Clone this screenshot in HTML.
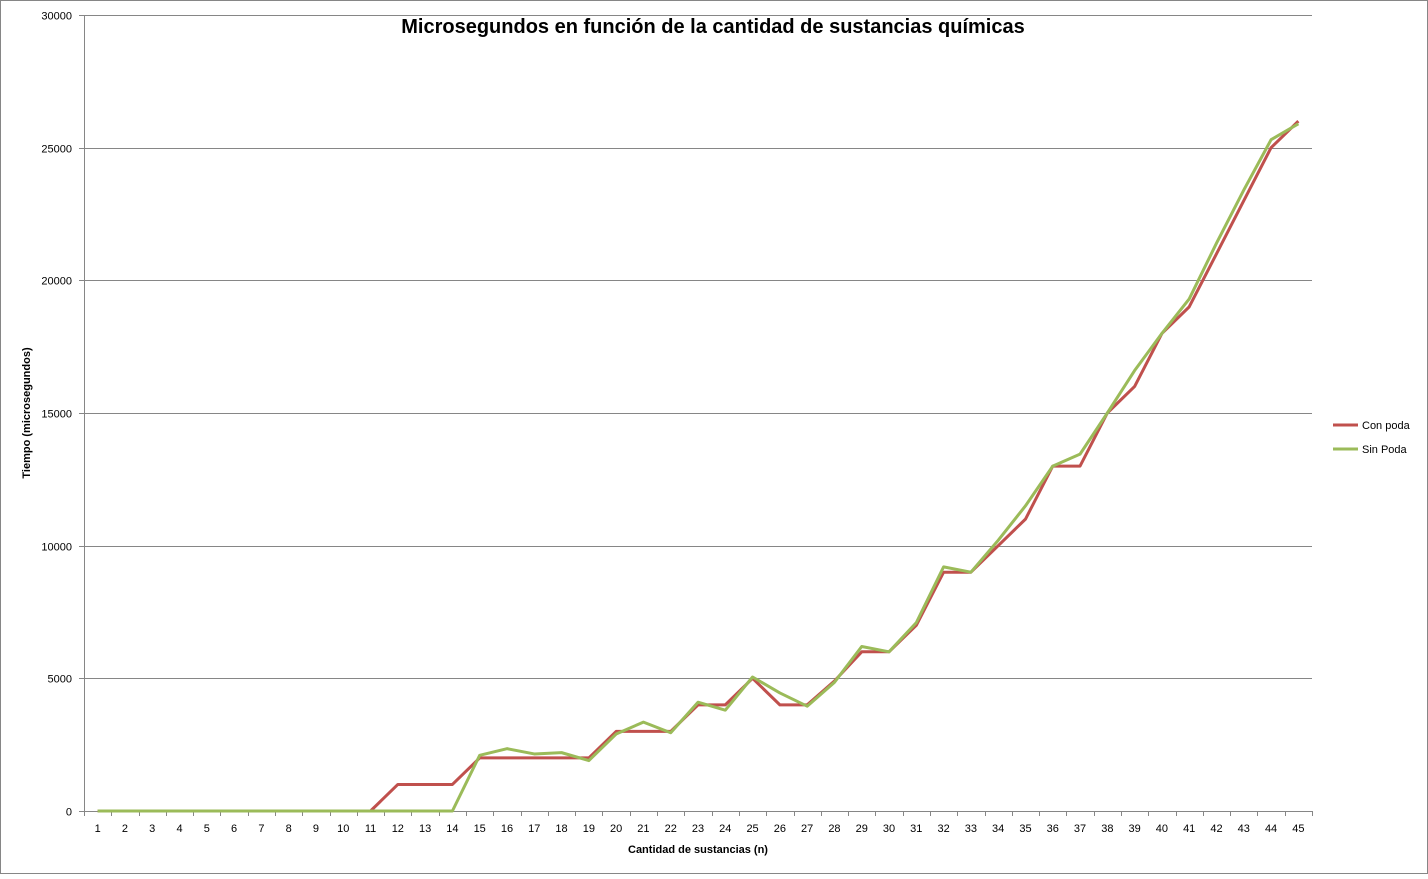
<!DOCTYPE html>
<html><head><meta charset="utf-8"><style>
body{margin:0;background:#fff;}
svg text{font-family:"Liberation Sans",sans-serif;}
</style></head><body>
<svg id="chart" width="1428" height="874" xmlns="http://www.w3.org/2000/svg">
<rect x="0.5" y="0.5" width="1427" height="873" fill="#fff" stroke="#868686"/>
<text x="713" y="33" text-anchor="middle" font-size="20" font-weight="bold">Microsegundos en función de la cantidad de sustancias químicas</text>
<text transform="translate(30,413) rotate(-90)" text-anchor="middle" font-size="11" font-weight="bold">Tiempo  (microsegundos)</text>
<text x="698" y="853" text-anchor="middle" font-size="11" font-weight="bold">Cantidad  de sustancias  (n)</text>
<g id="grid"></g><g id="axes"></g><g id="series"></g>
<g>
<line x1="1333" y1="425" x2="1358" y2="425" stroke="#C0504D" stroke-width="3"/>
<text x="1362" y="429" font-size="11">Con poda</text>
<line x1="1333" y1="449" x2="1358" y2="449" stroke="#9BBB59" stroke-width="3"/>
<text x="1362" y="453" font-size="11">Sin Poda</text>
</g>
</svg>
<script>
const categories=[];for(let i=1;i<=45;i++)categories.push(i);
const conPoda=[0,0,0,0,0,0,0,0,0,0,0,1000,1000,1000,2000,2000,2000,2000,2000,3000,3000,3000,4000,4000,5000,4000,4000,4900,6000,6000,7000,9000,9000,10000,11000,13000,13000,15000,16000,18000,19000,21000,23000,25000,26000];
const sinPoda=[0,0,0,0,0,0,0,0,0,0,0,0,0,0,2100,2350,2150,2200,1900,2900,3350,2950,4100,3800,5050,4450,3950,4850,6200,6000,7100,9200,9000,10200,11500,13000,13450,15000,16600,18000,19300,21400,23400,25300,25900];
const yTicks=[0,5000,10000,15000,20000,25000,30000];
const NS="http://www.w3.org/2000/svg";
const L=84,R=1312,T=15,B=811,YMAX=30000;
const step=(R-L)/categories.length;
function xs(i){return L+step*(i+0.5);}
function ys(v){return B-(v/YMAX)*(B-T);}
function mk(tag,attrs,parent){const e=document.createElementNS(NS,tag);for(const k in attrs)e.setAttribute(k,attrs[k]);parent.appendChild(e);return e;}
const grid=document.getElementById('grid'),axes=document.getElementById('axes'),ser=document.getElementById('series');
yTicks.forEach(t=>{
 const y=Math.round(ys(t))+0.5;
 const g=mk('line',{x1:L,x2:R,y1:y,y2:y,stroke:'#868686','stroke-width':1},grid);
 
 
 const tk=mk('line',{x1:L-5,x2:L,y1:y,y2:y,stroke:'#868686'},axes);
 
 
 const tx=mk('text',{x:72,y:y+4,'text-anchor':'end','font-size':11},axes);tx.textContent=t;
 
 
});
const ya=mk('line',{x1:L+0.5,x2:L+0.5,y1:T,y2:B,stroke:'#868686'},axes);


for(let i=0;i<=categories.length;i++){
 const x=Math.round(L+step*i)+0.5;
 const tk=mk('line',{x1:x,x2:x,y1:B,y2:B+5,stroke:'#868686'},axes);
 
 
}
categories.forEach((c,i)=>{
 const tx=mk('text',{x:xs(i),y:832,'text-anchor':'middle','font-size':11},axes);tx.textContent=c;
 
 
});
function line(data,color,name){
 const p=mk('polyline',{points:data.map((v,i)=>xs(i)+','+ys(v)).join(' '),fill:'none',stroke:color,'stroke-width':3,'stroke-linejoin':'round'},ser);
 
 
}
line(conPoda,'#C0504D','series-con-poda');
line(sinPoda,'#9BBB59','series-sin-poda');
</script>
</body></html>
